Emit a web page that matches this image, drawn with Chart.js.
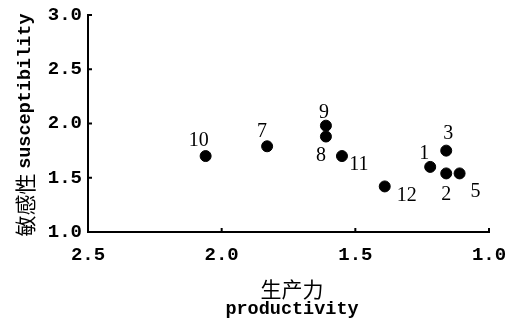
<!DOCTYPE html>
<html>
<head>
<meta charset="utf-8">
<script src="https://cdn.jsdelivr.net/npm/chart.js@4/dist/chart.umd.min.js"></script>
<style>
  html, body { margin: 0; padding: 0; background: #fff; }
  #wrap { width: 511px; height: 320px; }
</style>
</head>
<body>
<div id="wrap"><canvas id="chartCanvas" width="511" height="320"></canvas></div>
<script>
// site numbers, productivity (x), susceptibility (y)
const sites = ['1', '2', '3', '5', '7', '8', '9', '10', '11', '12'];
const productivity = [1.22, 1.16, 1.16, 1.11, 1.83, 1.61, 1.61, 2.06, 1.55, 1.39];
const susceptibility = [1.60, 1.54, 1.75, 1.54, 1.79, 1.88, 1.98, 1.70, 1.70, 1.42];
const xTicks = [2.5, 2.0, 1.5, 1.0];
const yTicks = [1.0, 1.5, 2.0, 2.5, 3.0];

// where each number label sits relative to its dot (pixels)
const labelShift = {
  '1': [-6, -13], '2': [0, 21], '3': [2, -17], '5': [16, 18], '7': [-5, -15],
  '8': [-5, 19], '9': [-2, -13], '10': [-7, -15], '11': [17, 9], '12': [22, 9]
};

const monoFont = '"Liberation Mono", monospace';
const cjkFont = '21px "Noto Sans CJK SC", sans-serif';
const enFont = 'bold 18.5px "Liberation Mono", monospace';
const labelFont = '20px "Liberation Serif", serif';

const points = productivity.map((x, i) => ({ x: x, y: susceptibility[i] }));

const decor = {
  id: 'decor',
  afterDraw(chart) {
    const ctx = chart.ctx;
    const xs = chart.scales.x;
    const ys = chart.scales.y;
    ctx.save();
    // inward tick marks
    ctx.strokeStyle = '#000';
    ctx.lineWidth = 2;
    xTicks.forEach(v => {
      const px = xs.getPixelForValue(v);
      ctx.beginPath();
      ctx.moveTo(px, ys.bottom);
      ctx.lineTo(px, ys.bottom - 4);
      ctx.stroke();
    });
    yTicks.forEach(v => {
      const py = ys.getPixelForValue(v);
      ctx.beginPath();
      ctx.moveTo(xs.left, py);
      ctx.lineTo(xs.left + 4, py);
      ctx.stroke();
    });

    // point numbers
    ctx.fillStyle = '#000';
    ctx.font = labelFont;
    ctx.textAlign = 'center';
    ctx.textBaseline = 'middle';
    const meta = chart.getDatasetMeta(0);
    meta.data.forEach((el, i) => {
      const s = labelShift[sites[i]] || [0, -15];
      ctx.fillText(sites[i], el.x + s[0], el.y + s[1]);
    });

    // axis titles
    const cx = 292;
    ctx.font = cjkFont;
    ctx.fillText('生产力', cx, 289);
    ctx.font = enFont;
    ctx.fillText('productivity', cx, 309);

    ctx.translate(25, 125);
    ctx.rotate(-Math.PI / 2);
    const cn = '敏感性 ';
    const en = 'susceptibility';
    ctx.font = cjkFont;
    const w1 = ctx.measureText(cn).width;
    ctx.font = enFont;
    const w2 = ctx.measureText(en).width;
    const start = -(w1 + w2) / 2;
    ctx.textAlign = 'left';
    ctx.font = cjkFont;
    ctx.fillText(cn, start, 0);
    ctx.font = enFont;
    ctx.fillText(en, start + w1, 0);
    ctx.restore();
  }
};

new Chart(document.getElementById('chartCanvas'), {
  type: 'scatter',
  data: {
    datasets: [{
      data: points,
      backgroundColor: '#000',
      borderColor: '#000',
      pointRadius: 5.5,
      pointHoverRadius: 5.5
    }]
  },
  options: {
    responsive: false,
    animation: false,
    layout: { padding: { top: 15, right: 22, left: 0, bottom: 0 } },
    plugins: { legend: { display: false }, tooltip: { enabled: false } },
    scales: {
      x: {
        type: 'linear',
        reverse: true,
        min: 1.0,
        max: 2.5,
        afterFit(scale) {
          scale.height = 88;
          scale.paddingLeft = 0;
          scale.paddingRight = 0;
        },
        afterBuildTicks(scale) { scale.ticks = xTicks.map(v => ({ value: v })); },
        grid: { display: false, drawTicks: false },
        border: { display: true, color: '#000', width: 2 },
        ticks: {
          color: '#000',
          font: { family: monoFont, size: 19, weight: 'bold' },
          padding: 12,
          maxRotation: 0,
          callback: v => Number(v).toFixed(1)
        }
      },
      y: {
        type: 'linear',
        min: 1.0,
        max: 3.0,
        afterFit(scale) {
          scale.width = 88;
          scale.paddingTop = 0;
          scale.paddingBottom = 0;
        },
        afterBuildTicks(scale) { scale.ticks = yTicks.map(v => ({ value: v })); },
        grid: { display: false, drawTicks: false },
        border: { display: true, color: '#000', width: 2 },
        ticks: {
          color: '#000',
          font: { family: monoFont, size: 19, weight: 'bold' },
          padding: 6,
          callback: v => Number(v).toFixed(1)
        }
      }
    }
  },
  plugins: [decor]
});
</script>
</body>
</html>
